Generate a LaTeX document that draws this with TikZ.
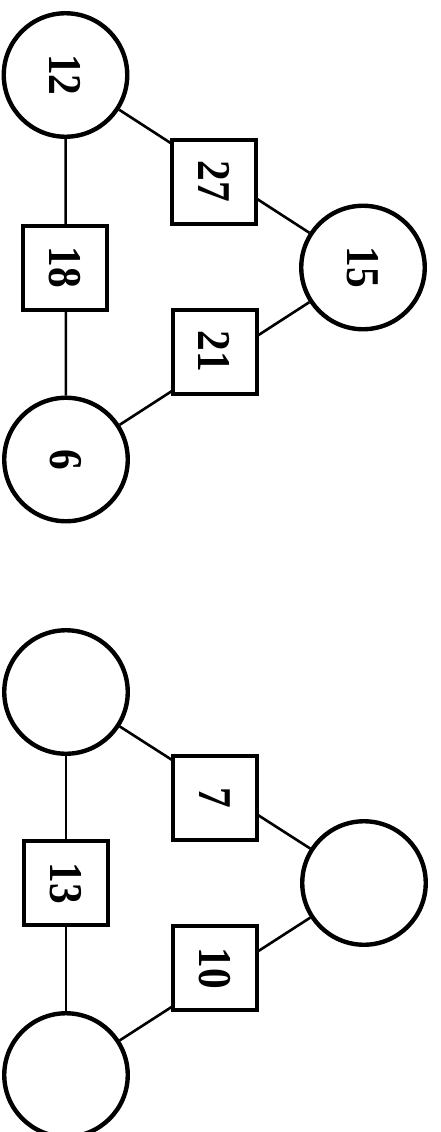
\documentclass[tikz,border=0pt]{standalone}
\usepackage{fontspec}
\usepackage{graphicx}
\setmainfont{Liberation Serif}
\usetikzlibrary{backgrounds}
\begin{document}
\begin{tikzpicture}[x=1pt,y=-1pt,
  circ/.style={circle, draw, line width=4.4pt, minimum size=123.5pt, inner sep=0pt, fill=white, rotate=-90},
  box/.style={rectangle, draw, line width=4pt, minimum width=84pt, minimum height=84pt, inner sep=0pt, fill=white, rotate=-90},
  num/.style={font=\bfseries\fontsize{47}{47}\selectfont},
  link/.style={line width=2.6pt}]
\useasboundingbox (0,0) rectangle (441,1132);
\clip (0,0) rectangle (441,1132);
% upper group
\node[circ, num] (c12) at (65.5,75) {\scalebox{0.88}[1]{12}};
\node[circ, num] (c15) at (363,267.5) {\scalebox{0.88}[1]{15}};
\node[circ, num] (c6) at (66,459.5) {\scalebox{0.88}[1]{6}};
\node[box, num] (b18) at (65,267.5) {\scalebox{0.88}[1]{18}};
\node[box, num] (b27) at (214,181.5) {\scalebox{0.88}[1]{27}};
\node[box, num] (b21) at (214.5,351.5) {\scalebox{0.88}[1]{21}};
% lower group
\node[circ] (ca) at (66,692) {};
\node[circ] (cb) at (364,883) {};
\node[circ] (cc) at (66,1075) {};
\node[box, num] (b13) at (65.5,883) {\scalebox{0.88}[1]{13}};
\node[box, num] (b7) at (215,798) {\scalebox{0.88}[1]{7}};
\node[box, num] (b10) at (215,968) {\scalebox{0.88}[1]{10}};
\begin{scope}[on background layer]
\draw[link] (c12) -- (c6);
\draw[link] (c12) -- (c15);
\draw[link] (c15) -- (c6);
\draw[link] (ca) -- (cc);
\draw[link] (ca) -- (cb);
\draw[link] (cb) -- (cc);
\end{scope}
\end{tikzpicture}
\end{document}
